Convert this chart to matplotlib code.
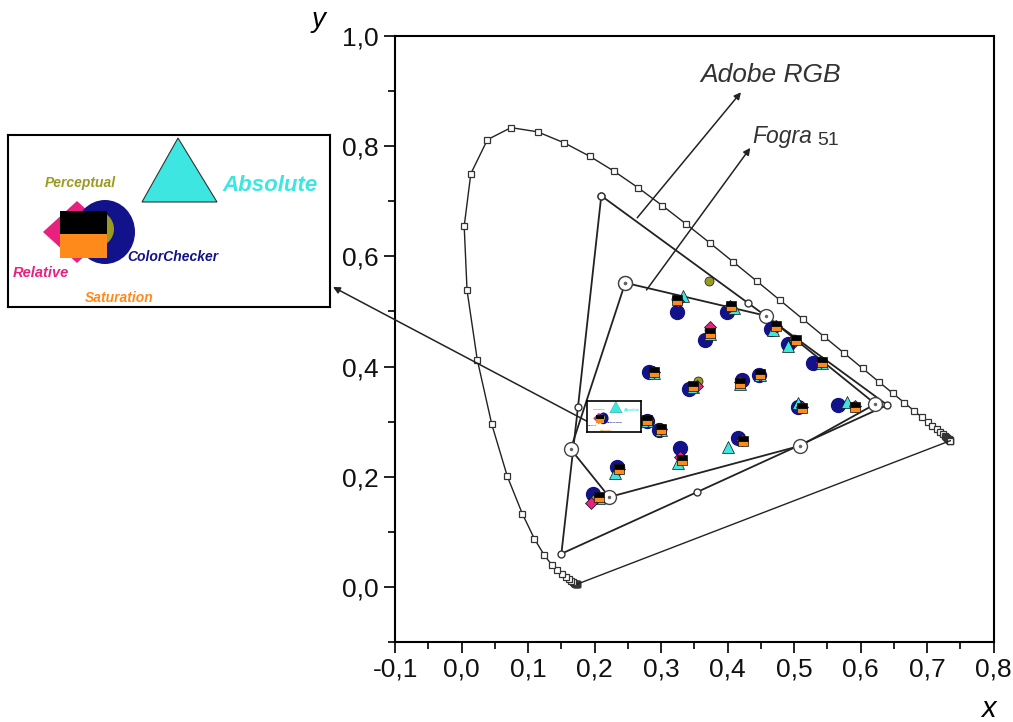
import matplotlib
matplotlib.use("Agg")
import matplotlib.pyplot as plt
from matplotlib.patches import Polygon, Ellipse, Rectangle
from matplotlib.ticker import MultipleLocator, FuncFormatter

plt.rcParams["font.family"] = ["Liberation Sans", "DejaVu Sans"]

# CIE 1931 spectral locus, 380-700 nm in 5 nm steps
locus_x = [0.1741, 0.1740, 0.1738, 0.1736, 0.1733, 0.1730, 0.1726, 0.1721, 0.1714,
           0.1703, 0.1689, 0.1669, 0.1644, 0.1611, 0.1566, 0.1510, 0.1440, 0.1355,
           0.1241, 0.1096, 0.0913, 0.0687, 0.0454, 0.0235, 0.0082, 0.0039, 0.0139,
           0.0389, 0.0743, 0.1142, 0.1547, 0.1929, 0.2296, 0.2658, 0.3016, 0.3373,
           0.3731, 0.4087, 0.4441, 0.4788, 0.5125, 0.5448, 0.5752, 0.6029, 0.6270,
           0.6482, 0.6658, 0.6801, 0.6915, 0.7006, 0.7079, 0.7140, 0.7190, 0.7230,
           0.7260, 0.7283, 0.7300, 0.7311, 0.7320, 0.7327, 0.7334, 0.7340, 0.7344,
           0.7346, 0.7347]
locus_y = [0.0050, 0.0050, 0.0049, 0.0049, 0.0048, 0.0048, 0.0048, 0.0048, 0.0051,
           0.0058, 0.0069, 0.0086, 0.0109, 0.0138, 0.0177, 0.0227, 0.0297, 0.0399,
           0.0578, 0.0868, 0.1327, 0.2007, 0.2950, 0.4127, 0.5384, 0.6548, 0.7502,
           0.8120, 0.8338, 0.8262, 0.8059, 0.7816, 0.7543, 0.7243, 0.6923, 0.6589,
           0.6245, 0.5896, 0.5547, 0.5202, 0.4866, 0.4544, 0.4242, 0.3965, 0.3725,
           0.3514, 0.3340, 0.3197, 0.3083, 0.2993, 0.2920, 0.2859, 0.2809, 0.2770,
           0.2740, 0.2717, 0.2700, 0.2689, 0.2680, 0.2673, 0.2666, 0.2660, 0.2656,
           0.2654, 0.2653]

# Adobe RGB gamut (G, R, B with intermediate points)
adobe_x = [0.21, 0.431, 0.64, 0.354, 0.15, 0.175, 0.21]
adobe_y = [0.71, 0.515, 0.33, 0.172, 0.06, 0.327, 0.71]

# Fogra 51 gamut
fogra_x = [0.246, 0.458, 0.622, 0.509, 0.222, 0.164, 0.246]
fogra_y = [0.552, 0.492, 0.332, 0.256, 0.163, 0.250, 0.552]

# measured patches
cc_x = [0.324, 0.399, 0.366, 0.465, 0.491, 0.529, 0.282, 0.342, 0.422, 0.447,
        0.505, 0.566, 0.416, 0.329, 0.233, 0.198, 0.278, 0.297]
cc_y = [0.499, 0.499, 0.448, 0.468, 0.441, 0.407, 0.390, 0.359, 0.376, 0.384,
        0.327, 0.330, 0.270, 0.252, 0.218, 0.169, 0.301, 0.285]

perc_x = [0.322, 0.372, 0.372, 0.471, 0.500, 0.540, 0.288, 0.356, 0.420, 0.448,
          0.510, 0.590, 0.421, 0.331, 0.235, 0.200, 0.278, 0.299]
perc_y = [0.523, 0.555, 0.466, 0.476, 0.450, 0.410, 0.392, 0.374, 0.372, 0.387,
          0.327, 0.329, 0.267, 0.232, 0.215, 0.160, 0.304, 0.288]

rel_x = [0.326, 0.404, 0.374, 0.472, 0.501, 0.541, 0.289, 0.354, 0.419, 0.449,
         0.511, 0.591, 0.422, 0.329, 0.236, 0.194, 0.280, 0.300]
rel_y = [0.519, 0.509, 0.472, 0.473, 0.447, 0.409, 0.390, 0.365, 0.371, 0.385,
         0.326, 0.328, 0.266, 0.236, 0.213, 0.152, 0.302, 0.286]

abs_x = [0.333, 0.409, 0.374, 0.468, 0.490, 0.542, 0.290, 0.348, 0.419, 0.449,
         0.505, 0.580, 0.401, 0.326, 0.230, 0.206, 0.279, 0.300]
abs_y = [0.528, 0.506, 0.459, 0.467, 0.437, 0.406, 0.388, 0.363, 0.368, 0.384,
         0.334, 0.336, 0.254, 0.224, 0.207, 0.161, 0.301, 0.285]

sat_x = [0.324, 0.405, 0.374, 0.473, 0.502, 0.542, 0.290, 0.348, 0.419, 0.449,
         0.512, 0.592, 0.423, 0.332, 0.236, 0.206, 0.279, 0.300]
sat_y = [0.521, 0.510, 0.461, 0.474, 0.448, 0.408, 0.390, 0.365, 0.370, 0.386,
         0.325, 0.327, 0.265, 0.230, 0.214, 0.163, 0.303, 0.287]

NAVY = "#12128a"
OLIVE = "#9a9a22"
PINK = "#e8207f"
CYAN = "#3de6e0"
ORANGE = "#ff8a1c"
LINE = "#222222"


def draw_key(kax, s):
    """Draws the symbol key in local pixel coordinates, s scales fonts/lines."""
    kax.set_xlim(0, 322)
    kax.set_ylim(172, 0)
    kax.set_xticks([])
    kax.set_yticks([])
    for sp in kax.spines.values():
        sp.set_linewidth(max(1.5 * s, 1.2))
    kax.add_patch(Polygon([(35, 97), (69, 66), (103, 97), (69, 128)],
                          closed=True, fc=PINK, ec="none"))
    kax.add_patch(Ellipse((97, 97), 60, 64, fc=NAVY, ec="none"))
    kax.add_patch(Ellipse((88, 94), 36, 36, fc=OLIVE, ec="none"))
    kax.add_patch(Rectangle((52, 76), 47, 23, fc="black", ec="none"))
    kax.add_patch(Rectangle((52, 99), 47, 24, fc=ORANGE, ec="none"))
    kax.add_patch(Polygon([(134, 67), (170, 3), (209, 67)], closed=True,
                          fc=CYAN, ec="#333333", lw=0.8 * s))
    kw = dict(style="italic", weight="bold", va="center")
    kax.text(72, 48, "Perceptual", color=OLIVE, ha="center", fontsize=10 * s, **kw)
    kax.text(214, 50, "Absolute", color=CYAN, ha="left", fontsize=16 * s, **kw)
    kax.text(119, 122, "ColorChecker", color=NAVY, ha="left", fontsize=10 * s, **kw)
    kax.text(5, 138, "Relative", color=PINK, ha="left", fontsize=10.5 * s, **kw)
    kax.text(77, 163, "Saturation", color=ORANGE, ha="left", fontsize=10 * s, **kw)


fig = plt.figure(figsize=(10.13, 7.22), dpi=100)
ax = fig.add_axes([0.390, 0.111, 0.591, 0.839])

# spectral locus with purple line
ax.plot(locus_x, locus_y, color=LINE, lw=1, marker="s", ms=4.5, mfc="white",
        mec="#333333", mew=0.9, zorder=2)
ax.plot([locus_x[0], locus_x[-1]], [locus_y[0], locus_y[-1]], color=LINE, lw=1, zorder=2)

ax.plot(adobe_x, adobe_y, color=LINE, lw=1.3, marker="o", ms=5, mfc="white",
        mec="#333333", mew=1, zorder=2)
ax.plot(fogra_x, fogra_y, color=LINE, lw=1.3, marker="o", ms=10, mfc="white",
        mec="#444444", mew=1, zorder=3)
ax.plot(fogra_x, fogra_y, ls="none", marker="o", ms=1.5, color="#666666", zorder=3)

mk = dict(ls="none", mec="#111111", mew=0.5, zorder=4)
ax.plot(cc_x, cc_y, marker="o", ms=10, color=NAVY, mec=NAVY, ls="none", zorder=4)
ax.plot(abs_x, abs_y, marker="^", ms=8, mfc=CYAN, **mk)
ax.plot(perc_x, perc_y, marker="o", ms=6.5, mfc=OLIVE, **mk)
ax.plot(rel_x, rel_y, marker="D", ms=6, mfc=PINK, **mk)
ax.plot(sat_x, sat_y, marker="s", ms=7.5, fillstyle="bottom", mfc=ORANGE,
        mfcalt="black", **mk)

# arrows and gamut labels
arrow = dict(arrowstyle="-|>", color=LINE, lw=1.1, mutation_scale=10, shrinkA=0, shrinkB=0)
ax.annotate("", xy=(0.420, 0.898), xytext=(0.264, 0.670), arrowprops=arrow)
ax.annotate("", xy=(0.434, 0.797), xytext=(0.278, 0.539), arrowprops=arrow)
ax.text(0.359, 0.929, "Adobe RGB", style="italic", fontsize=19, color="#333333",
        va="center")
ax.text(0.437, 0.817, "Fogra", style="italic", fontsize=16.5, color="#333333",
        va="center")
ax.text(0.534, 0.810, "51", fontsize=14, color="#333333", va="center")

ax.set_xlim(-0.1, 0.8)
ax.set_ylim(-0.1, 1.0)
ax.xaxis.set_major_locator(MultipleLocator(0.1))
ax.xaxis.set_minor_locator(MultipleLocator(0.05))
ax.yaxis.set_major_locator(MultipleLocator(0.2))
ax.yaxis.set_minor_locator(MultipleLocator(0.1))
comma = FuncFormatter(lambda v, p: f"{round(v, 1) + 0.0:.1f}".replace(".", ","))
ax.xaxis.set_major_formatter(comma)
ax.yaxis.set_major_formatter(comma)
ax.tick_params(which="major", direction="out", length=8, width=1.3, labelsize=19,
               colors="#111111")
ax.tick_params(which="minor", direction="out", length=5, width=1.2)
for sp in ax.spines.values():
    sp.set_linewidth(1.5)

fig.text(0.314, 0.972, "y", style="italic", fontsize=20, ha="center", va="center")
fig.text(0.976, 0.018, "x", style="italic", fontsize=21, ha="center", va="center")

# small key inside the plot and the magnified key on the left
small = ax.inset_axes([0.189, 0.281, 0.081, 0.057], transform=ax.transData)
draw_key(small, 54 / 322)
small.set_zorder(5)

big = fig.add_axes([8 / 1013, 1 - 307 / 722, 322 / 1013, 172 / 722])
draw_key(big, 1.0)

ax.annotate("", xy=(333 / 1013, 1 - 287 / 722), xycoords="figure fraction",
            xytext=(0.191, 0.299), textcoords="data", arrowprops=arrow,
            annotation_clip=False)

fig.savefig("out.png", dpi=100)
